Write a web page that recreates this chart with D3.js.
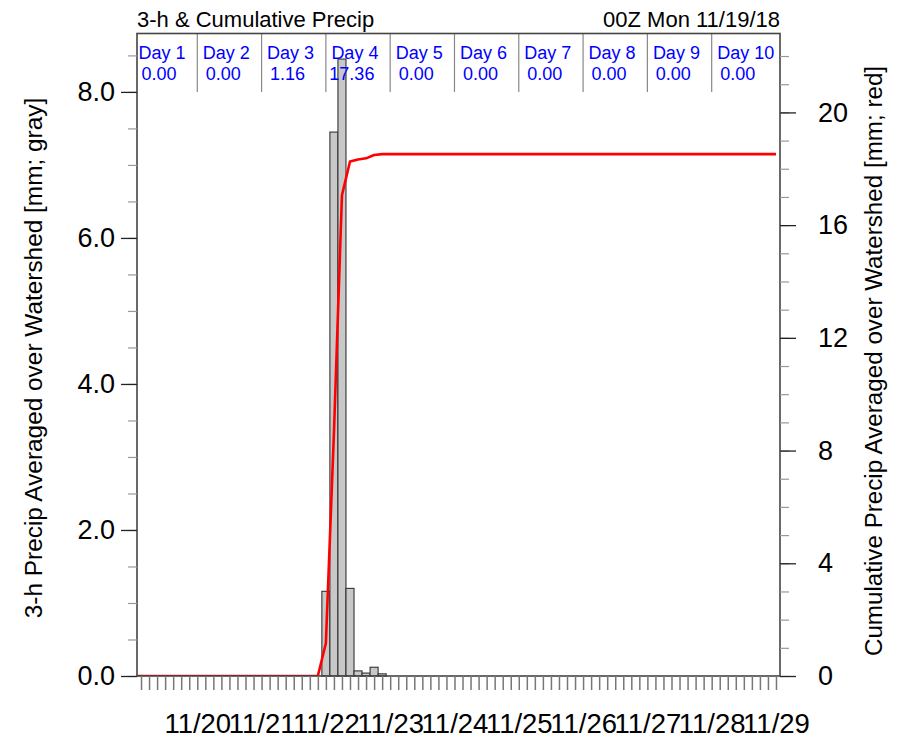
<!DOCTYPE html>
<html>
<head>
<meta charset="utf-8">
<script src="https://cdn.jsdelivr.net/npm/d3@7"></script>
<style>
  html, body { margin: 0; padding: 0; background: #fff; }
  svg { display: block; font-family: "Liberation Sans", Arial, Helvetica, sans-serif; }
</style>
</head>
<body>
<svg id="chart" width="897" height="743"></svg>
<script>
// ---------------- data ----------------
const chartTitle = "3-h & Cumulative Precip";
const initTitle = "00Z Mon 11/19/18";
const leftTitle = "3-h Precip Averaged over Watershed [mm; gray]";
const rightTitle = "Cumulative Precip Averaged over Watershed [mm; red]";

// forecast valid hours of the 3-h bars (3h .. 240h)
const validHours = d3.range(3, 243, 3);
// 3-h precipitation (mm), one per valid hour
const precip3h = [
  0,0,0,0,0,0,0,0,            // day 1
  0,0,0,0,0,0,0,0,            // day 2
  0,0,0,0,0,0,0,1.16,         // day 3
  7.45,8.45,1.20,0.07,0.04,0.12,0.03,0, // day 4
  0,0,0,0,0,0,0,0,            // day 5
  0,0,0,0,0,0,0,0,            // day 6
  0,0,0,0,0,0,0,0,            // day 7
  0,0,0,0,0,0,0,0,            // day 8
  0,0,0,0,0,0,0,0,            // day 9
  0,0,0,0,0,0,0,0             // day 10
];
// cumulative precipitation (mm) at hours 0,3,...,240
const cumHours = d3.range(0, 243, 3);
const cumPrecip = [
  0,
  0,0,0,0,0,0,0,0,
  0,0,0,0,0,0,0,0,
  0,0,0,0,0,0,0,1.16,
  8.61,17.06,18.26,18.33,18.37,18.49,18.52,18.52,
  18.52,18.52,18.52,18.52,18.52,18.52,18.52,18.52,
  18.52,18.52,18.52,18.52,18.52,18.52,18.52,18.52,
  18.52,18.52,18.52,18.52,18.52,18.52,18.52,18.52,
  18.52,18.52,18.52,18.52,18.52,18.52,18.52,18.52,
  18.52,18.52,18.52,18.52,18.52,18.52,18.52,18.52,
  18.52,18.52,18.52,18.52,18.52,18.52,18.52,18.52
];
const dayLabels = ["Day 1","Day 2","Day 3","Day 4","Day 5","Day 6","Day 7","Day 8","Day 9","Day 10"];
const dayTotals = ["0.00","0.00","1.16","17.36","0.00","0.00","0.00","0.00","0.00","0.00"];
const dayStartHours = [0,24,48,72,96,120,144,168,192,216];
const dateLabels = ["11/20","11/21","11/22","11/23","11/24","11/25","11/26","11/27","11/28","11/29"];
const dateHours = [24,48,72,96,120,144,168,192,216,240];
const leftTicks = [0,2,4,6,8];
const leftMinor = d3.range(0, 8.75, 0.5);
const rightTicks = [0,4,8,12,16,20];
const rightMinor = d3.range(0, 23, 1);

// ---------------- layout ----------------
const L = 137, R = 780, T = 33.5, B = 676;
const svg = d3.select("#chart");

const x = d3.scaleLinear().domain([1.5, 241.5]).range([L, R]);
const yL = d3.scaleLinear().domain([0, 8.8]).range([B, T]);
const yR = d3.scaleLinear().domain([0, 22.8]).range([B, T]);

svg.append("defs").append("clipPath").attr("id", "plotclip")
  .append("rect").attr("x", L).attr("y", T).attr("width", R - L).attr("height", B - T);

// bars
const bars = validHours.map((h, i) => ({h, v: precip3h[i]})).filter(d => d.v > 0);
svg.append("g").selectAll("rect").data(bars).join("rect")
  .attr("x", d => x(d.h - 1.5))
  .attr("width", d => x(d.h + 1.5) - x(d.h - 1.5))
  .attr("y", d => yL(d.v))
  .attr("height", d => yL(0) - yL(d.v))
  .attr("fill", "#c8c8c8")
  .attr("stroke", "#333")
  .attr("stroke-width", 1.1);

// cumulative line
const line = d3.line().x(d => x(d[0])).y(d => yR(d[1]));
svg.append("path")
  .datum(cumHours.map((h, i) => [h, cumPrecip[i]]))
  .attr("clip-path", "url(#plotclip)")
  .attr("d", line)
  .attr("fill", "none")
  .attr("stroke", "#ff0000")
  .attr("stroke-width", 2.6)
  .attr("stroke-linejoin", "round");

// header day separators and labels
const hdr = svg.append("g");
hdr.selectAll("line").data(dayStartHours.slice(1)).join("line")
  .attr("x1", d => x(d)).attr("x2", d => x(d))
  .attr("y1", T).attr("y2", 92)
  .attr("stroke", "#888").attr("stroke-width", 1.2);
hdr.selectAll("text.day").data(dayLabels).join("text").attr("class", "day")
  .attr("x", (d, i) => x(dayStartHours[i]) + 5.5)
  .attr("y", 58.5)
  .attr("fill", "#0000ff")
  .attr("font-size", 18)
  .text(d => d);
hdr.selectAll("text.tot").data(dayTotals).join("text").attr("class", "tot")
  .attr("x", (d, i) => x(dayStartHours[i]) + 26)
  .attr("y", 80)
  .attr("fill", "#0000ff")
  .attr("font-size", 18)
  .attr("text-anchor", "middle")
  .text(d => d);

// frame
svg.append("rect").attr("x", L).attr("y", T).attr("width", R - L).attr("height", B - T)
  .attr("fill", "none").attr("stroke", "#444").attr("stroke-width", 1.6);

// left axis
const gl = svg.append("g").attr("transform", `translate(${L},0)`);
gl.call(d3.axisLeft(yL).tickValues(leftMinor).tickSize(9).tickFormat(""));
gl.selectAll(".tick line").attr("stroke", "#999").attr("stroke-width", 1.2);
gl.select(".domain").remove();
const gl2 = svg.append("g").attr("transform", `translate(${L},0)`);
gl2.call(d3.axisLeft(yL).tickValues(leftTicks).tickSize(16).tickPadding(6).tickFormat(d3.format(".1f")));
gl2.select(".domain").remove();
gl2.selectAll(".tick line").attr("stroke", "#222").attr("stroke-width", 1.3);
gl2.selectAll(".tick text").attr("font-size", 27).attr("fill", "#000").attr("font-family", null);

// right axis
const gr = svg.append("g").attr("transform", `translate(${R},0)`);
gr.call(d3.axisRight(yR).tickValues(rightMinor).tickSize(9).tickFormat(""));
gr.selectAll(".tick line").attr("stroke", "#999").attr("stroke-width", 1.2);
gr.select(".domain").remove();
const gr2 = svg.append("g").attr("transform", `translate(${R},0)`);
gr2.call(d3.axisRight(yR).tickValues(rightTicks).tickSize(16).tickPadding(22).tickFormat(d3.format("d")));
gr2.select(".domain").remove();
gr2.selectAll(".tick line").attr("stroke", "#222").attr("stroke-width", 1.3);
gr2.selectAll(".tick text").attr("font-size", 27).attr("fill", "#000").attr("font-family", null);

// bottom axis: 3-h ticks and date labels
const gb = svg.append("g").attr("transform", `translate(0,${B})`);
gb.call(d3.axisBottom(x).tickValues(validHours).tickSize(14).tickFormat(""));
gb.select(".domain").remove();
gb.selectAll(".tick line").attr("stroke", "#777").attr("stroke-width", 1.5);
const gb2 = svg.append("g").attr("transform", `translate(0,${B})`);
gb2.call(d3.axisBottom(x).tickValues(dateHours).tickSize(0).tickPadding(37)
  .tickFormat((d, i) => dateLabels[i]));
gb2.select(".domain").remove();
gb2.selectAll(".tick text").attr("font-size", 27.5).attr("fill", "#000").attr("font-family", null);

// titles
svg.append("text").attr("x", L).attr("y", 27).attr("font-size", 22).text(chartTitle);
svg.append("text").attr("x", R).attr("y", 27).attr("font-size", 22).attr("text-anchor", "end").text(initTitle);
svg.append("text")
  .attr("transform", `translate(42,358) rotate(-90)`)
  .attr("text-anchor", "middle").attr("font-size", 24.4).text(leftTitle);
svg.append("text")
  .attr("transform", `translate(882,361) rotate(-90)`)
  .attr("text-anchor", "middle").attr("font-size", 24.2).text(rightTitle);
</script>
</body>
</html>
